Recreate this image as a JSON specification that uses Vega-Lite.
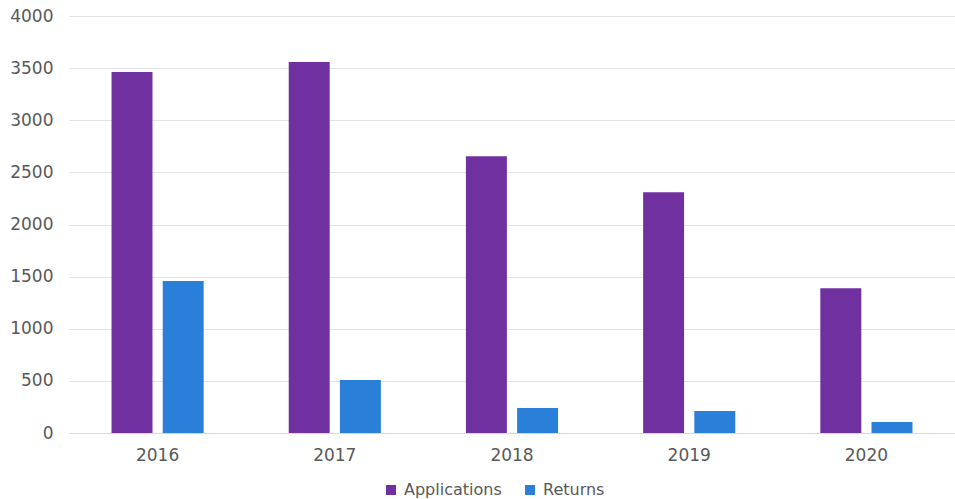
{
  "$schema": "https://vega.github.io/schema/vega-lite/v6.json",
  "autosize": {"type": "none"},
  "width": 886,
  "height": 417,
  "padding": {"left": 69, "top": 16, "right": 0, "bottom": 66},
  "background": "white",
  "data": {
    "values": [
      {"year": "2016", "series": "Applications", "value": 3462},
      {"year": "2016", "series": "Returns", "value": 1458},
      {"year": "2017", "series": "Applications", "value": 3559},
      {"year": "2017", "series": "Returns", "value": 508},
      {"year": "2018", "series": "Applications", "value": 2655},
      {"year": "2018", "series": "Returns", "value": 240},
      {"year": "2019", "series": "Applications", "value": 2309},
      {"year": "2019", "series": "Returns", "value": 212},
      {"year": "2020", "series": "Applications", "value": 1388},
      {"year": "2020", "series": "Returns", "value": 106}
    ]
  },
  "mark": {"type": "bar"},
  "encoding": {
    "x": {
      "field": "year", "type": "nominal", "title": null,
      "scale": {"paddingInner": 0.48, "paddingOuter": 0.24},
      "axis": {"labelAngle": 0, "ticks": false, "domainColor": "#d9d9d9", "domainWidth": 1, "labelPadding": 14, "labelFontSize": 17, "labelColor": "#595959", "labelFont": "DejaVu Sans"}
    },
    "xOffset": {"field": "series", "type": "nominal", "scale": {"paddingInner": 0.2, "paddingOuter": 0}},
    "y": {
      "field": "value", "type": "quantitative", "title": null,
      "scale": {"domain": [0, 4000], "nice": false},
      "axis": {"values": [0, 500, 1000, 1500, 2000, 2500, 3000, 3500, 4000], "format": "d", "domain": false, "ticks": false, "labelPadding": 16, "labelFontSize": 17, "labelColor": "#595959", "labelFont": "DejaVu Sans", "gridColor": "#e3e3e3", "gridWidth": 1}
    },
    "color": {
      "field": "series", "type": "nominal",
      "scale": {"domain": ["Applications", "Returns"], "range": ["#7030A0", "#2A7FD8"]},
      "legend": {"title": null, "orient": "none", "direction": "horizontal", "legendX": 314, "legendY": 466, "symbolType": "square", "symbolSize": 100, "symbolStrokeWidth": 0, "labelFontSize": 16, "labelColor": "#595959", "labelFont": "DejaVu Sans", "labelOffset": 5, "columnPadding": 20}
    }
  },
  "config": {"view": {"stroke": null}}
}
